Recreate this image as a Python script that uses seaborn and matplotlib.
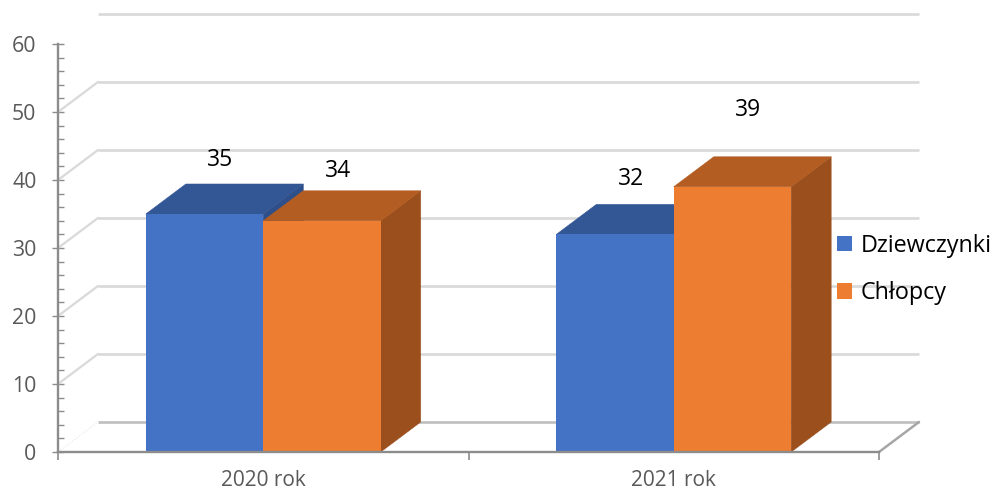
import numpy as np
import pandas as pd
import seaborn as sns
from matplotlib import pyplot as plt
from matplotlib.patches import Patch, Polygon

years = ["2020 rok", "2021 rok"]
groups = ["Dziewczynki", "Chłopcy"]
girls = [35, 32]
boys = [34, 39]
label_heights_girls = [42.9, 40.2]
label_heights_boys = [41.3, 50.3]
y_ticks = [0, 10, 20, 30, 40, 50, 60]

front_cols = ["#4472c4", "#ed7d31"]
top_cols = ["#335795", "#b45d23"]
side_cols = ["#2e4f8a", "#9a4f1d"]
grid_col = "#d9d9d9"
axis_col = "#8c8c8c"
text_col = "#595959"

sns.set_theme(style="white")
plt.rcParams["font.family"] = ["Open Sans", "DejaVu Sans"]

df = pd.DataFrame(
    {
        "year": years * 2,
        "group": [groups[0]] * 2 + [groups[1]] * 2,
        "val": girls + boys,
    }
)

fig = plt.figure(figsize=(9.92, 4.91), dpi=100)
ax = fig.add_axes([58 / 992, 39 / 491, 821 / 992, 408 / 491])
ax.patch.set_alpha(0)

sns.barplot(
    data=df,
    x="year",
    y="val",
    hue="group",
    hue_order=groups,
    palette=front_cols,
    width=0.572,
    gap=0,
    saturation=1,
    legend=False,
    ax=ax,
    zorder=6,
)
ax.set_xlim(-0.5, 1.5)
ax.set_ylim(0, 60)
ax.set_xlabel("")
ax.set_ylabel("")

# depth of the fake 3d box, 40px across and 30px up
dx = 40 / (821 / 2)
dy = 30 / (408 / 60)

# back wall + side wall gridlines
for t in y_ticks:
    col = "#bfbfbf" if t == 0 else grid_col
    ax.plot([-0.5 + dx, 1.5 + dx], [t + dy, t + dy], color=col, lw=1.9,
            clip_on=False, zorder=1, solid_capstyle="butt")
    if t == 0:
        ax.plot([-0.5, -0.5 + dx], [t, t + dy], color="#e6e6e6", lw=0.8, ls=":",
                clip_on=False, zorder=1)
    elif t < 60:
        ax.plot([-0.5, -0.5 + dx], [t, t + dy], color=grid_col, lw=1.6,
                clip_on=False, zorder=1)
ax.plot([1.5, 1.5 + dx], [0, dy], color="#a6a6a6", lw=1.8, clip_on=False, zorder=2)

# top and side faces worked out from the drawn bars
for i, cont in enumerate(ax.containers):
    for bar in cont:
        x0 = bar.get_x()
        x1 = x0 + bar.get_width()
        h = bar.get_height()
        top = [(x0, h), (x1, h), (x1 + dx, h + dy), (x0 + dx, h + dy)]
        side = [(x1, 0), (x1 + dx, dy), (x1 + dx, h + dy), (x1, h)]
        ax.add_patch(Polygon(side, fc=side_cols[i], ec=side_cols[i], lw=0.4,
                             zorder=3 + i, clip_on=False))
        ax.add_patch(Polygon(top, fc=top_cols[i], ec=top_cols[i], lw=0.4,
                             zorder=3 + i, clip_on=False))
        bar.set_edgecolor("none")

for cont, heights in zip(ax.containers, [label_heights_girls, label_heights_boys]):
    for bar, v, ly in zip(cont, cont.datavalues, heights):
        ax.text(bar.get_x() + bar.get_width() / 2 + dx * 0.39, ly, f"{v:.0f}",
                ha="center", va="center", fontsize=16.5, color="black", zorder=8)

sns.despine(ax=ax)
for s in ["left", "bottom"]:
    ax.spines[s].set_color(axis_col)
    ax.spines[s].set_linewidth(1.7)
    ax.spines[s].set_zorder(7)

ax.set_yticks(y_ticks)
ax.set_yticks(np.arange(0, 61, 2), minor=True)
ax.tick_params(axis="y", which="major", direction="inout", length=9, width=1.0,
               color=axis_col, labelcolor=text_col, labelsize=15.3, pad=11, left=True)
ax.tick_params(axis="y", which="minor", direction="in", length=4, width=1.0,
               color=axis_col, left=True)
ax.set_xticks(range(len(years)), years)
ax.set_xticks([-0.5, 0.5, 1.5], minor=True)
ax.tick_params(axis="x", which="major", length=0, labelcolor=text_col, labelsize=15, pad=13)
ax.tick_params(axis="x", which="minor", direction="out", length=6, width=1.2,
               color=axis_col, bottom=True)

handles = [Patch(fc=c, ec="none") for c in front_cols]
fig.legend(
    handles,
    groups,
    loc="upper left",
    bbox_to_anchor=(832.5 / 992, 1 - 229 / 491),
    frameon=False,
    fontsize=16.8,
    labelcolor="black",
    handlelength=0.65,
    handleheight=0.65,
    handletextpad=0.35,
    labelspacing=1.0,
    borderpad=0.2,
    borderaxespad=0,
)

plt.savefig("out.png", dpi=100)
